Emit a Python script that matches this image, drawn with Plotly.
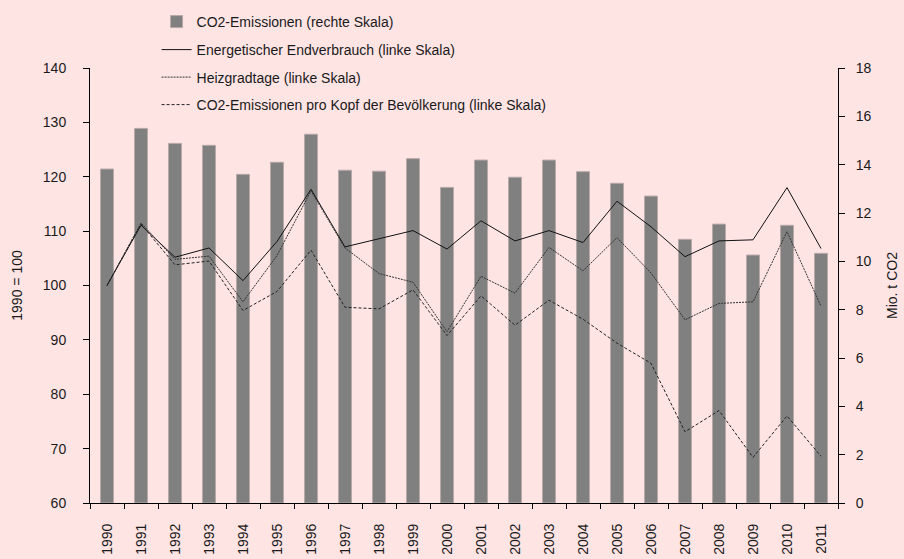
import plotly.graph_objects as go

years = [str(y) for y in range(1990, 2012)]

co2_emissionen = [13.82, 15.50, 14.88, 14.80, 13.60, 14.10, 15.26, 13.77, 13.73, 14.25,
                  13.06, 14.19, 13.48, 14.19, 13.71, 13.23, 12.70, 10.91, 11.54, 10.26,
                  11.49, 10.33]

endverbrauch = [100.0, 111.1, 105.2, 106.9, 100.9, 108.1, 117.7, 107.1, 108.6, 110.1,
                106.7, 111.9, 108.2, 110.1, 107.9, 115.5, 110.8, 105.3, 108.2, 108.4,
                118.0, 106.8]

heizgradtage = [100.0, 111.5, 104.8, 105.4, 97.0, 105.5, 117.4, 106.9, 102.2, 100.6,
                91.5, 101.7, 98.6, 107.0, 102.7, 108.8, 102.3, 93.7, 96.7, 97.0,
                109.9, 96.2]

co2_pro_kopf = [100.0, 111.3, 103.8, 104.5, 95.4, 98.9, 106.5, 96.0, 95.7, 99.2,
                90.8, 98.1, 92.7, 97.3, 93.8, 89.4, 85.7, 73.1, 77.0, 68.4,
                76.0, 68.6]

FONT = "Liberation Sans"
TXT = "#1a1a1a"
BG = "#FFE4E4"

fig = go.Figure()

fig.add_trace(go.Bar(
    x=years, y=co2_emissionen, name="CO2-Emissionen (rechte Skala)",
    marker=dict(color="#808080", line=dict(color="#b8a8a8", width=1)),
    width=0.38, yaxis="y", legend="legend"))

fig.add_trace(go.Scatter(
    x=years, y=endverbrauch, name="Energetischer Endverbrauch (linke Skala)",
    mode="lines", line=dict(color="#111111", width=1), yaxis="y2", legend="legend2"))

fig.add_trace(go.Scatter(
    x=years, y=heizgradtage, name="Heizgradtage (linke Skala)",
    mode="lines", line=dict(color="#333333", width=1, dash="2px,1px"), yaxis="y2",
    legend="legend3"))

fig.add_trace(go.Scatter(
    x=years, y=co2_pro_kopf, name="CO2-Emissionen pro Kopf der Bevölkerung (linke Skala)",
    mode="lines", line=dict(color="#222222", width=1, dash="3px,2px"), yaxis="y2",
    legend="legend4"))

def leg(y):
    return dict(x=0.089, y=y, xanchor="left", yanchor="middle",
                bgcolor="rgba(0,0,0,0)", font=dict(family=FONT, size=14, color=TXT),
                itemwidth=30)

fig.update_layout(
    width=904, height=559,
    margin=dict(l=90, r=66, t=68, b=56, autoexpand=False),
    paper_bgcolor=BG, plot_bgcolor=BG,
    font=dict(family=FONT, size=14, color=TXT),
    showlegend=True,
    legend=leg((503 - 22) / 435),
    legend2=leg((503 - 50) / 435),
    legend3=leg((503 - 77.5) / 435),
    legend4=leg((503 - 105) / 435),
    xaxis=dict(type="category", tickangle=-90, showline=True, linecolor="#000000",
               linewidth=1, ticks="outside", tickson="boundaries", ticklen=5,
               tickcolor="#000000", showgrid=False, zeroline=False,
               tickfont=dict(family=FONT, size=14, color=TXT), ticklabelstandoff=14),
    yaxis=dict(title=dict(text="Mio. t CO2", font=dict(family=FONT, size=14, color=TXT),
                          standoff=16),
               side="right", range=[0, 18], dtick=2, showline=True, linecolor="#000000",
               linewidth=1, ticks="outside", ticklen=6, tickcolor="#000000",
               showgrid=False, zeroline=False, ticklabelstandoff=8),
    yaxis2=dict(title=dict(text="1990 = 100", font=dict(family=FONT, size=14, color=TXT),
                           standoff=16),
                side="left", overlaying="y", range=[60, 140], dtick=10, showline=True,
                linecolor="#000000", linewidth=1, ticks="outside", ticklen=6,
                tickcolor="#000000", showgrid=False, zeroline=False,
                ticklabelstandoff=14),
)

fig.write_html(
    "out.html",
    config={"displayModeBar": False},
    post_script="document.body.style.margin='0';document.body.style.background='#FFE4E4';"
                "document.body.style.overflow='hidden';",
)
